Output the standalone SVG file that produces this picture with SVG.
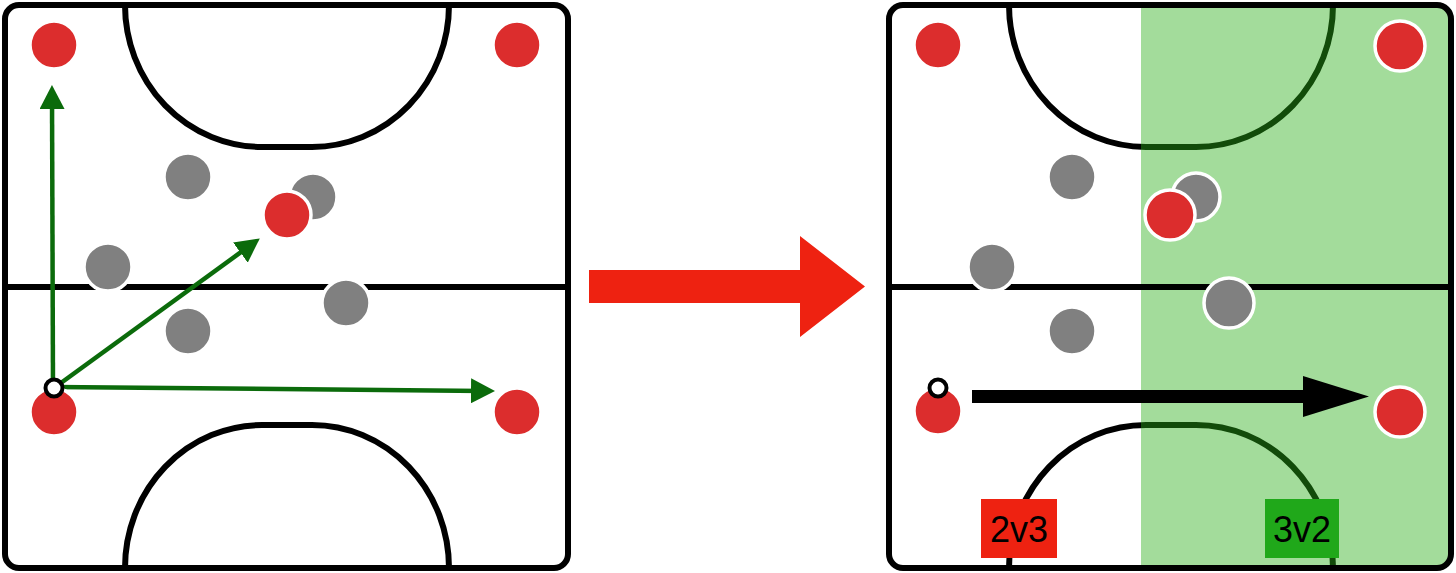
<svg xmlns="http://www.w3.org/2000/svg" width="1456" height="573" viewBox="0 0 1456 573">
<style>
.line{fill:none;stroke:#000;stroke-width:6}
.border{fill:none;stroke:#000;stroke-width:6}
.red{fill:#dc2d2d;stroke:#fff;stroke-width:3.5}
.gray{fill:#808080;stroke:#fff;stroke-width:3.5}
.ball{fill:#fff;stroke:#000;stroke-width:4}
.garrow{fill:none;stroke:#0b6b0b;stroke-width:4.5;marker-end:url(#gh)}
.lbl{font-family:"Liberation Sans",Arial,sans-serif;font-size:36px;fill:#000;text-anchor:middle}
</style>
<defs>
<marker id="gh" markerUnits="userSpaceOnUse" markerWidth="25" markerHeight="25" refX="13" refY="12.5" orient="auto" viewBox="0 0 25 25">
<path d="M0,0 L24,12.5 L0,25 z" fill="#0b6b0b"/>
</marker>
<marker id="bh" markerUnits="userSpaceOnUse" markerWidth="67" markerHeight="42" refX="1" refY="20.5" orient="auto" viewBox="0 0 67 42">
<path d="M0,0 L66,20.5 L0,41 z" fill="#000"/>
</marker>
<clipPath id="rclip"><rect x="889" y="5" width="562" height="563" rx="14"/></clipPath>
</defs>
<rect width="1456" height="573" fill="#fff"/>

<g id="field-left">
<rect x="5" y="5" width="563" height="563" rx="14" fill="#fff"/>
<path class="line" d="M125,5 A137,142 0 0 0 262,147 L312,147 A137,142 0 0 0 449,5"/>
<path class="line" d="M125,568 A137,143 0 0 1 262,425 L312,425 A137,143 0 0 1 449,568"/>
<line class="line" x1="5" y1="287" x2="568" y2="287" stroke-width="5"/>
<rect class="border" x="5" y="5" width="563" height="563" rx="14"/>
</g>

<g id="field-right">
<rect x="889" y="5" width="562" height="563" rx="14" fill="#fff"/>
<path class="line" d="M1009,5 A137,142 0 0 0 1146,147 L1196,147 A137,142 0 0 0 1333,5"/>
<path class="line" d="M1009,568 A137,143 0 0 1 1146,425 L1196,425 A137,143 0 0 1 1333,568"/>
<rect id="zone-3v2" x="1141" y="0" width="315" height="573" fill="rgb(42,174,23)" fill-opacity="0.43" clip-path="url(#rclip)"/>
<line class="line" x1="889" y1="287" x2="1451" y2="287" stroke-width="5"/>
<rect class="border" x="889" y="5" width="562" height="563" rx="14"/>
</g>

<g id="connectors">
<path id="transition-arrow" d="M589,270 L800,270 L800,236 L865,286.5 L800,337 L800,303 L589,303 z" fill="#ee2211"/>
<line class="garrow" x1="53" y1="388" x2="52" y2="96"/>
<line class="garrow" x1="54" y1="388" x2="250.9" y2="244.9"/>
<line class="garrow" x1="54" y1="387" x2="484" y2="390.9"/>
<line x1="972" y1="396.5" x2="1304" y2="396.5" stroke="#000" stroke-width="13" marker-end="url(#bh)"/>
</g>

<g id="players-left">
<g id="l-red-tl"><circle class="red" cx="54" cy="45" r="24"/></g>
<g id="l-red-tr"><circle class="red" cx="517" cy="45" r="24"/></g>
<g id="l-gray-1"><circle class="gray" cx="188" cy="177" r="24"/></g>
<g id="l-gray-2"><circle class="gray" cx="313" cy="197" r="24"/></g>
<g id="l-red-mid"><circle class="red" cx="287" cy="215" r="24"/></g>
<g id="l-gray-3"><circle class="gray" cx="108" cy="267" r="24"/></g>
<g id="l-gray-4"><circle class="gray" cx="346" cy="303" r="24"/></g>
<g id="l-gray-5"><circle class="gray" cx="188" cy="331" r="24"/></g>
<g id="l-red-bl"><circle class="red" cx="54" cy="412" r="24"/></g>
<g id="l-red-br"><circle class="red" cx="517" cy="412" r="24"/></g>
<g id="l-ball"><circle class="ball" cx="54" cy="388" r="8.5"/></g>
</g>

<g id="players-right">
<g id="r-red-tl"><circle class="red" cx="938" cy="45" r="24"/></g>
<g id="r-red-tr"><circle class="red" cx="1400" cy="46" r="25"/></g>
<g id="r-gray-1"><circle class="gray" cx="1072" cy="177" r="24"/></g>
<g id="r-gray-2"><circle class="gray" cx="1196" cy="197" r="24"/></g>
<g id="r-red-mid"><circle class="red" cx="1170" cy="215" r="25"/></g>
<g id="r-gray-3"><circle class="gray" cx="992" cy="267" r="24"/></g>
<g id="r-gray-4"><circle class="gray" cx="1229" cy="303" r="25"/></g>
<g id="r-gray-5"><circle class="gray" cx="1072" cy="331" r="24"/></g>
<g id="r-red-bl"><circle class="red" cx="938" cy="411" r="24"/></g>
<g id="r-red-br"><circle class="red" cx="1400" cy="412" r="25"/></g>
<g id="r-ball"><circle class="ball" cx="938" cy="388" r="8.5"/></g>
</g>

<g id="label-2v3">
<rect x="981" y="499" width="76" height="59" fill="#ee2211"/>
<text class="lbl" x="1019" y="542">2v3</text>
</g>
<g id="label-3v2">
<rect x="1265" y="499" width="74" height="59" fill="#20a81a"/>
<text class="lbl" x="1302" y="542">3v2</text>
</g>
</svg>
